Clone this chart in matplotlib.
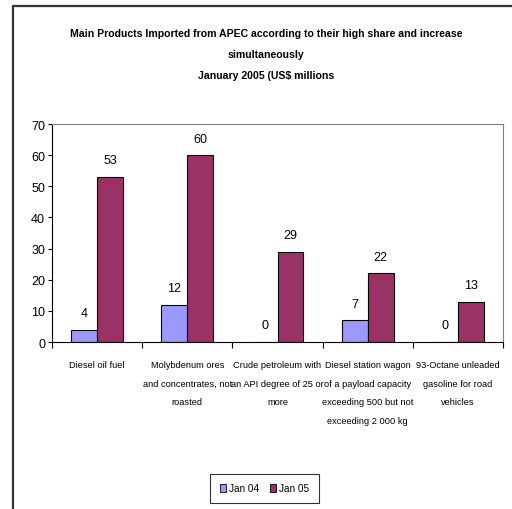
import matplotlib

matplotlib.use("Agg")
import matplotlib.pyplot as plt
import numpy as np
from matplotlib.lines import Line2D
from matplotlib.patches import Rectangle

# no Arial Narrow here; Liberation Sans at reduced sizes keeps widths close
plt.rcParams["font.family"] = ["Liberation Sans", "DejaVu Sans"]

categories = [
    "Diesel oil fuel",
    "Molybdenum ores\nand concentrates, not\nroasted",
    "Crude petroleum with\nan API degree of 25 or\nmore",
    "Diesel station wagon\nof a payload capacity\nexceeding 500 but not\nexceeding 2 000 kg",
    "93-Octane unleaded\ngasoline for road\nvehicles",
]
jan04 = [4, 12, 0, 7, 0]
jan05 = [53, 60, 29, 22, 13]
series_names = ["Jan 04", "Jan 05"]
colors = ["#9999FF", "#993366"]
title = ("Main Products Imported from APEC according to their high share and increase\n"
         "simultaneously\nJanuary 2005 (US$ millions")

fig = plt.figure(figsize=(5.12, 5.10), dpi=100)
ax = fig.add_axes([52 / 512, 1 - 343 / 510, 451 / 512, 218 / 510])

x = np.arange(len(categories))
w = 0.288
for vals, off, col in zip([jan04, jan05], [-w / 2, w / 2], colors):
    ax.bar(x + off, vals, width=w, color=col, edgecolor="black", linewidth=0.8)
    for xi, v in zip(x, vals):
        ax.text(xi + off, v + 3.4, f"{v}", ha="center", va="bottom", fontsize=9)

ax.set_xlim(-0.5, len(categories) - 0.5)
ax.set_ylim(0, 70)
ax.set_yticks(range(0, 71, 10))
ax.tick_params(axis="y", labelsize=9, length=3, direction="out", pad=2)
ax.set_xticks(np.arange(len(categories) + 1) - 0.5)
ax.set_xticklabels([])
ax.tick_params(axis="x", length=4, direction="out")
for xi, lab in zip(x, categories):
    ax.text(xi, -5.9, lab, ha="center", va="top", fontsize=6.7, linespacing=2.35)

for s in ["top", "right"]:
    ax.spines[s].set_color("#808080")
ax.spines["left"].set_color("black")
ax.spines["bottom"].set_color("black")

fig.text(266 / 512, 1 - 29 / 510, title, ha="center", va="top", fontsize=7.6,
         fontweight="bold", linespacing=2.4)

# legend box
handles = [Rectangle((0, 0), 1, 1, facecolor=c, edgecolor="black", linewidth=0.6) for c in colors]
leg = fig.legend(handles, series_names, loc="center", bbox_to_anchor=(264.5 / 512, 1 - 489.5 / 510),
                 ncol=2, fontsize=7.2, frameon=True, fancybox=False, edgecolor="black",
                 handlelength=0.6, handleheight=0.8, handletextpad=0.3, columnspacing=1.1,
                 borderpad=0.95, borderaxespad=0)
leg.get_frame().set_linewidth(0.8)

# outer chart border (left and top only are visible)
fig.add_artist(Line2D([13 / 512, 13 / 512, 1.0], [0.0, 1 - 7 / 510, 1 - 7 / 510],
                      transform=fig.transFigure, color="#333333", linewidth=1.6))

fig.savefig("out.png", dpi=100)
